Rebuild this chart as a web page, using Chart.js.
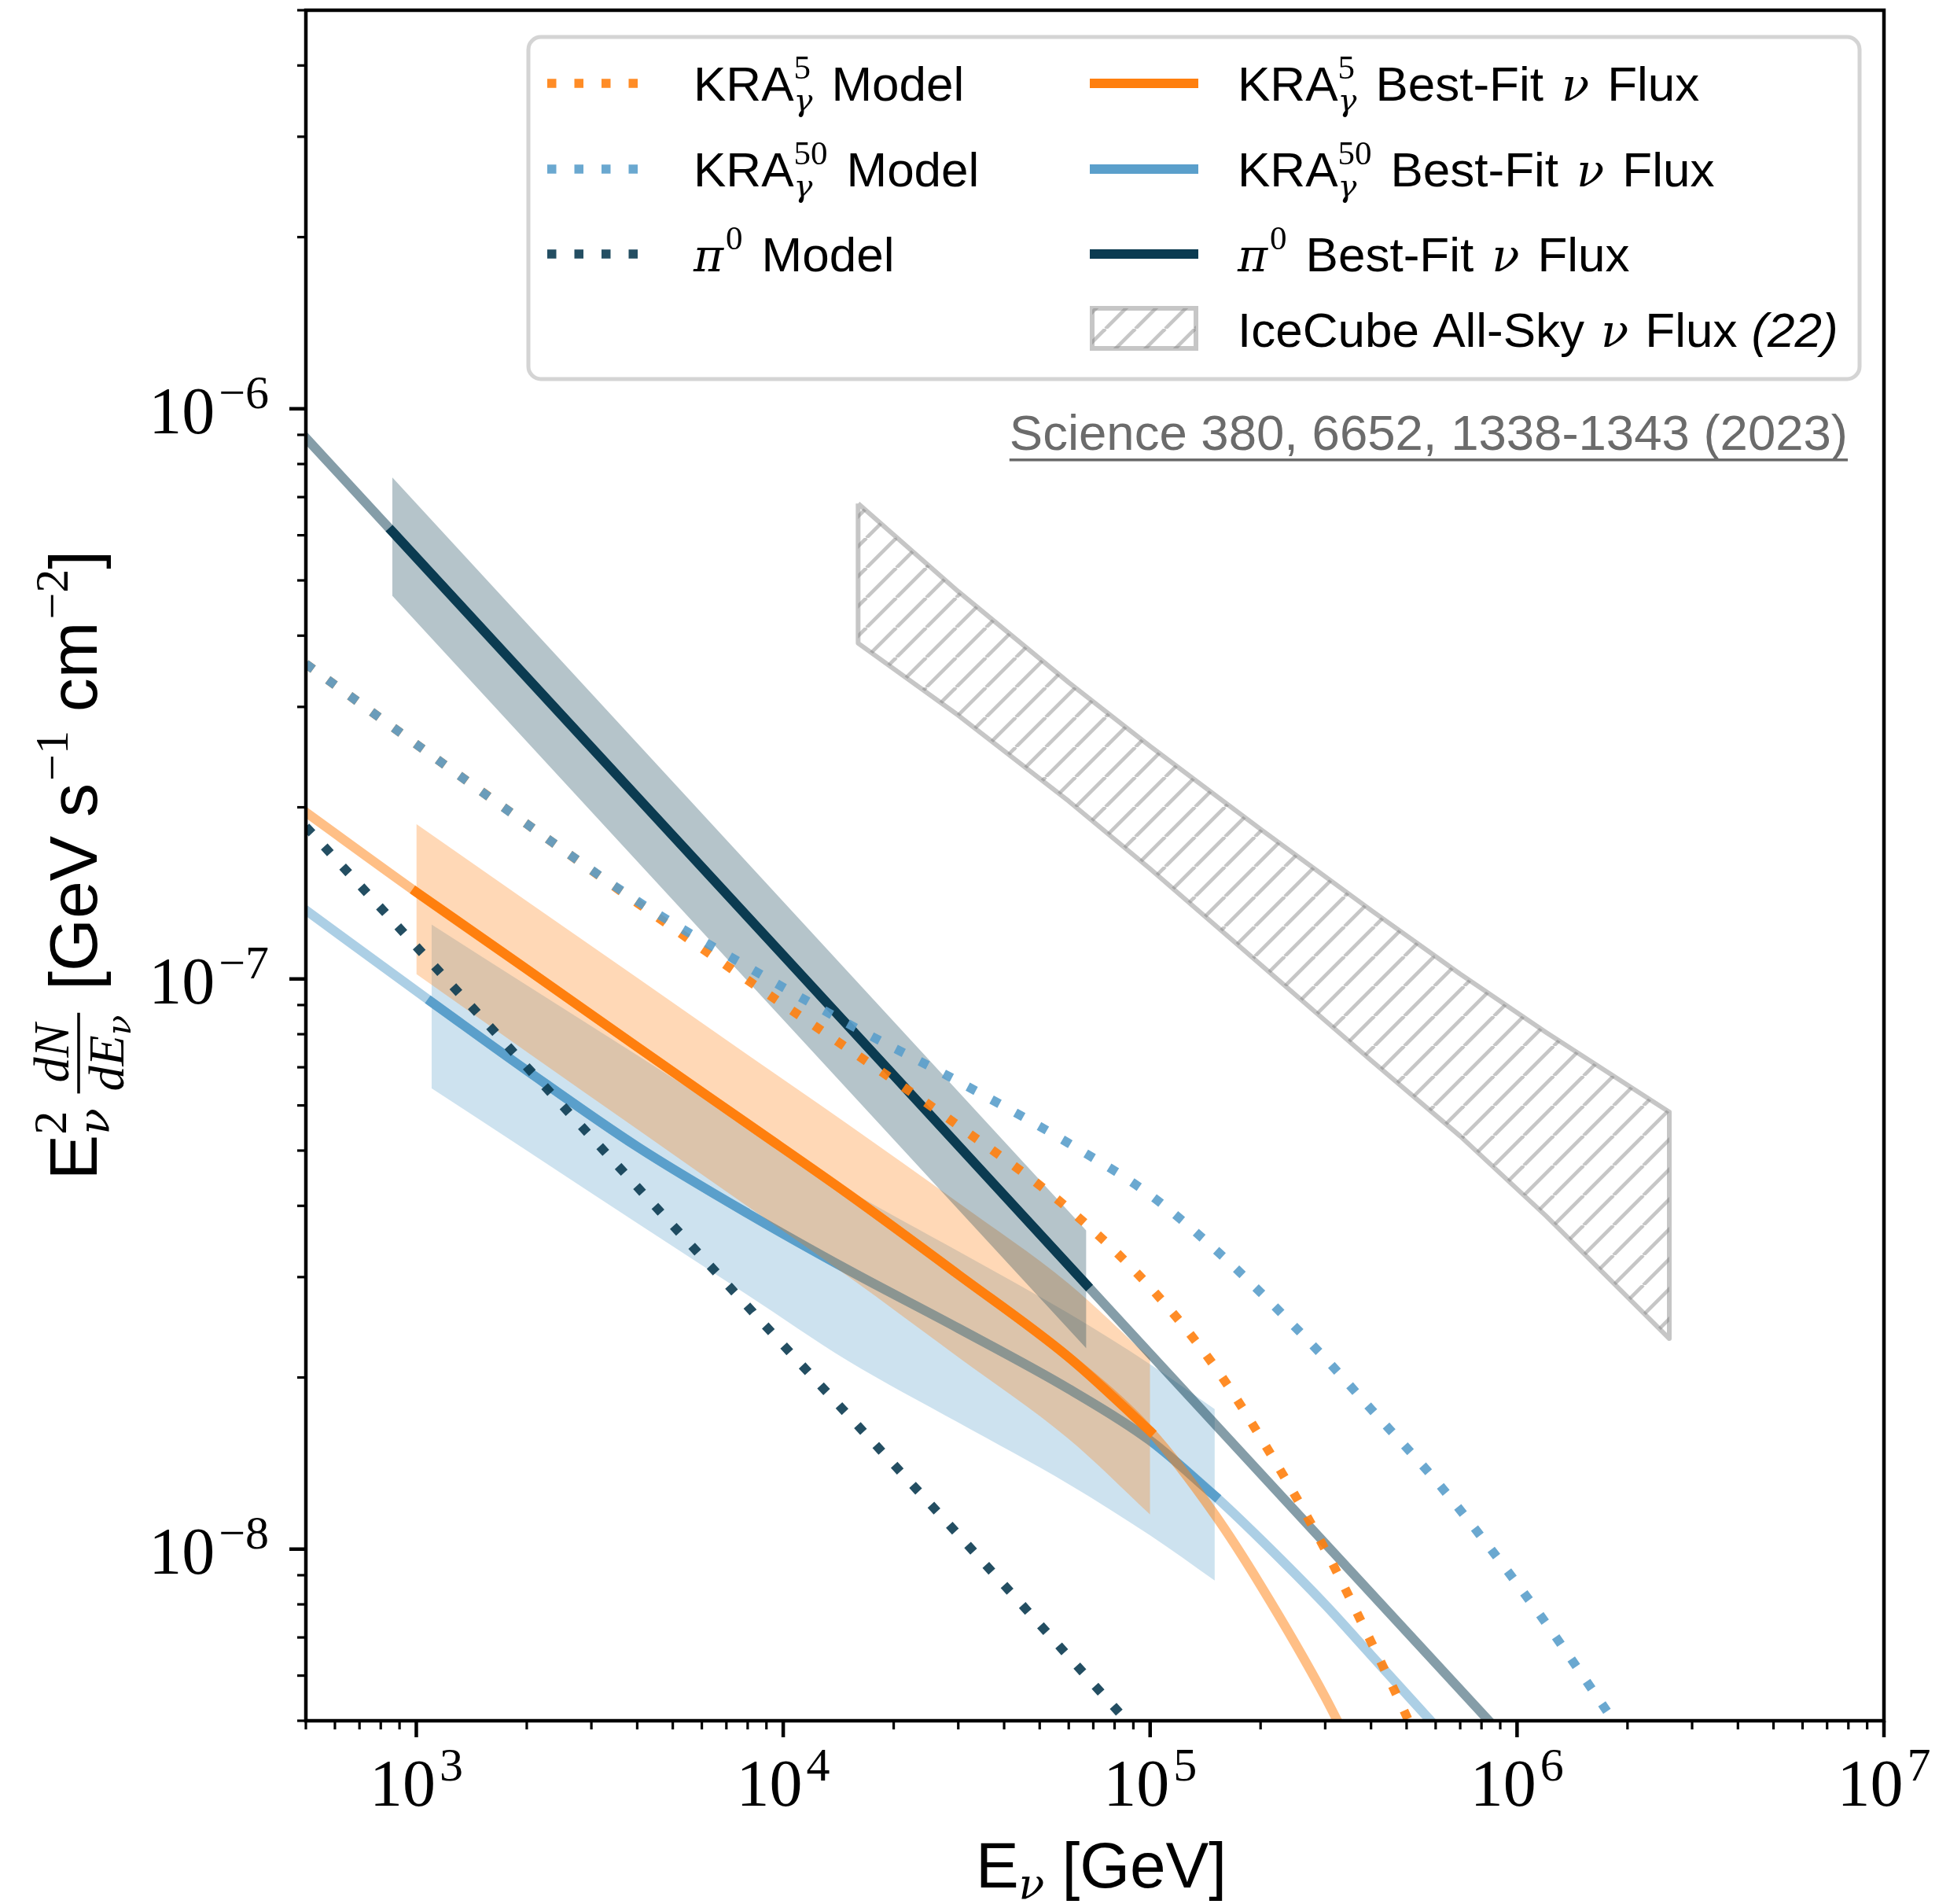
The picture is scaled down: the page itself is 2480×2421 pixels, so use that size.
<!DOCTYPE html>
<html>
<head>
<meta charset="utf-8">
<script src="https://cdn.jsdelivr.net/npm/chart.js@4.4.0/dist/chart.umd.min.js"></script>
<style>
  body { margin: 0; background: #fff; }
</style>
</head>
<body>
<canvas id="myChart" width="2480" height="2421"></canvas>
<script>
// energies in GeV, fluxes are E^2 dN/dE in GeV s^-1 cm^-2
const xMin = 500, xMax = 1e7;
const yMin = 5e-9, yMax = 5e-6;
const xTickExp = [3, 4, 5, 6, 7];
const yTickExp = [-8, -7, -6];

// models (dotted)
const kra50ModelE = [500, 1000, 2000, 4000, 8000, 15000, 30000, 60000, 100000, 150000, 200000, 300000, 400000, 600000, 800000, 1200000, 1800000, 2500000];
const kra50Model = [3.57e-7, 2.58e-7, 1.87e-7, 1.37e-7, 1.05e-7, 8.35e-8, 6.61e-8, 5.15e-8, 4.18e-8, 3.36e-8, 2.82e-8, 2.16e-8, 1.76e-8, 1.32e-8, 1.05e-8, 7.41e-9, 5.08e-9, 3.72e-9];
const kra5ModelE = [500, 1000, 2000, 4000, 8000, 15000, 30000, 60000, 100000, 150000, 200000, 300000, 400000, 500000, 600000];
const kra5Model = [3.57e-7, 2.58e-7, 1.87e-7, 1.36e-7, 9.95e-8, 7.55e-8, 5.53e-8, 3.95e-8, 2.88e-8, 2.09e-8, 1.57e-8, 9.98e-9, 6.88e-9, 5.09e-9, 3.91e-9];
const pionModelE = [500, 1000, 3000, 10000, 30000, 100000];
const pionModel = [1.85e-7, 1.14e-7, 5.28e-8, 2.28e-8, 1.06e-8, 4.5e-9];

// best fits (light = extrapolation, solid = sensitive range)
const kra5FitE = [500, 1000, 2000, 4000, 8000, 15000, 30000, 60000, 100000, 150000, 200000, 300000, 400000];
const kra5Fit = [1.96e-7, 1.42e-7, 1.04e-7, 7.60e-8, 5.57e-8, 4.20e-8, 3.03e-8, 2.17e-8, 1.61e-8, 1.15e-8, 8.64e-9, 5.50e-9, 3.79e-9];
const kra5Range = [1000, 100000];
const kra5BandE = [1000, 2000, 4000, 8000, 15000, 30000, 60000, 100000];
const kra5BandHi = [1.87e-7, 1.37e-7, 1.005e-7, 7.36e-8, 5.56e-8, 4.05e-8, 2.92e-8, 2.16e-8];
const kra5BandLo = [1.02e-7, 7.45e-8, 5.45e-8, 3.99e-8, 3.01e-8, 2.17e-8, 1.56e-8, 1.15e-8];

const kra50FitE = [500, 1100, 2000, 4000, 8000, 15000, 30000, 60000, 100000, 150000, 200000, 300000, 400000, 600000];
const kra50Fit = [1.32e-7, 9.11e-8, 6.91e-8, 5.08e-8, 3.88e-8, 3.09e-8, 2.44e-8, 1.91e-8, 1.55e-8, 1.24e-8, 1.04e-8, 7.99e-9, 6.52e-9, 4.89e-9];
const kra50Range = [1100, 150000];
const kra50BandE = [1100, 2000, 4000, 8000, 15000, 30000, 60000, 100000, 150000];
const kra50BandHi = [1.246e-7, 9.75e-8, 7.35e-8, 5.52e-8, 4.27e-8, 3.33e-8, 2.59e-8, 2.11e-8, 1.76e-8];
const kra50BandLo = [6.43e-8, 5.00e-8, 3.73e-8, 2.79e-8, 2.14e-8, 1.667e-8, 1.30e-8, 1.057e-8, 8.81e-9];

const pionFitE = [500, 1000, 10000, 100000, 1000000];
const pionFit = [8.89e-7, 5.48e-7, 1.10e-7, 2.20e-8, 4.42e-9];
const pionSolidE = [860, 10000, 67000];
const pionSolid = [6.09e-7, 1.10e-7, 2.91e-8];
const pionBandE = [860, 67000];
const pionBandHi = [7.58e-7, 3.62e-8];
const pionBandLo = [4.70e-7, 2.25e-8];

// IceCube all-sky flux butterfly
const iceE = [16000, 30000, 60000, 100000, 200000, 400000, 700000, 1200000, 2600000];
const iceHi = [6.82e-7, 4.78e-7, 3.31e-7, 2.56e-7, 1.83e-7, 1.32e-7, 1.02e-7, 8.06e-8, 5.84e-8];
const iceLo = [3.88e-7, 2.90e-7, 2.05e-7, 1.56e-7, 1.06e-7, 7.20e-8, 5.30e-8, 3.84e-8, 2.34e-8];

const ORANGE = [255, 127, 14], BLUE = [90, 159, 203], NAVY = [11, 59, 81];
const GREY = 'rgba(128,128,128,0.45)';
const rgba = (c, a) => `rgba(${c[0]},${c[1]},${c[2]},${a})`;

const SANS = '"Liberation Sans", Arial, sans-serif';
const SERIF = '"Liberation Serif", "Times New Roman", serif';
const GREEK = '"DejaVu Serif", serif';
const sans = s => `${s}px ${SANS}`;
const sansI = s => `italic ${s}px ${SANS}`;
const serif = s => `${s}px ${SERIF}`;
const serifI = s => `italic ${s}px ${SERIF}`;
const greek = s => `italic ${s}px ${GREEK}`;

const canvas = document.getElementById("myChart");
const context = canvas.getContext("2d");

/* hatch "//" like matplotlib */
function makeHatch() {
  const s = 38;
  const c = document.createElement("canvas");
  c.width = s;
  c.height = s;
  const g = c.getContext("2d");
  g.strokeStyle = GREY;
  g.lineWidth = 4.6;
  for (const k of [-1, 0, 1]) {
    g.beginPath();
    g.moveTo(k * s, s);
    g.lineTo(k * s + s, 0);
    g.stroke();
  }
  return context.createPattern(c, "repeat");
}
const hatch = makeHatch();

const xy = (xs, ys) => xs.map((x, i) => ({ x: x, y: ys[i] }));
const inRange = (xs, ys, r) => xy(xs, ys).filter(p => p.x >= r[0] && p.x <= r[1]);
const outline = (xs, hi, lo) => xy(xs, hi).concat(xy(xs, lo).reverse());

function curve(data, color, width, order, dotted) {
  return {
    data: data,
    order: order,
    borderColor: color,
    borderWidth: width,
    borderDash: dotted ? [width, width * 2] : [],
    borderCapStyle: dotted ? "butt" : "square",
    cubicInterpolationMode: "monotone",
    pointRadius: 0,
    fill: false,
    clip: 0,
  };
}
// a band = upper edge filled down to the lower edge (next dataset)
function band(xs, hi, lo, color, order) {
  const edge = (data, fill) => ({
    data: data,
    order: order,
    backgroundColor: color,
    borderColor: "transparent",
    borderWidth: 0,
    cubicInterpolationMode: "monotone",
    pointRadius: 0,
    fill: fill,
    clip: 0,
  });
  return [edge(xy(xs, hi), "+1"), edge(xy(xs, lo), false)];
}

const iceShape = outline(iceE, iceHi, iceLo);
iceShape.push({ x: iceE[0], y: iceHi[0] });

const datasets = [
  {
    data: iceShape,
    order: 20,
    backgroundColor: hatch,
    borderColor: GREY,
    borderWidth: 6,
    borderJoinStyle: "round",
    tension: 0,
    pointRadius: 0,
    fill: "shape",
    clip: 0,
  },
  ...band(kra50BandE, kra50BandHi, kra50BandLo, rgba(BLUE, 0.3), 19),
  curve(xy(kra50FitE, kra50Fit), rgba(BLUE, 0.5), 12, 18),
  curve(inRange(kra50FitE, kra50Fit, kra50Range), rgba(BLUE, 1), 12, 17),
  ...band(kra5BandE, kra5BandHi, kra5BandLo, rgba(ORANGE, 0.3), 16),
  curve(xy(kra5FitE, kra5Fit), rgba(ORANGE, 0.5), 12, 15),
  curve(inRange(kra5FitE, kra5Fit, kra5Range), rgba(ORANGE, 1), 12, 14),
  ...band(pionBandE, pionBandHi, pionBandLo, rgba(NAVY, 0.3), 13),
  curve(xy(pionFitE, pionFit), rgba(NAVY, 0.5), 12, 12),
  curve(xy(pionSolidE, pionSolid), rgba(NAVY, 1), 12, 11),
  curve(xy(kra5ModelE, kra5Model), rgba(ORANGE, 0.9), 11.5, 3, true),
  curve(xy(kra50ModelE, kra50Model), rgba(BLUE, 0.9), 11.5, 2, true),
  curve(xy(pionModelE, pionModel), rgba(NAVY, 0.9), 11.5, 1, true),
];

/* little rich-text helper: runs, stacked sup/sub, fractions */
function itemWidth(ctx, it) {
  if (it.gap) return it.gap;
  if (it.stack) return Math.max(...it.stack.map(s => itemWidth(ctx, s)));
  if (it.frac) return Math.max(rowWidth(ctx, it.frac[0]), rowWidth(ctx, it.frac[1])) + 8;
  ctx.font = it.f;
  return ctx.measureText(it.t).width;
}
function rowWidth(ctx, row) {
  return row.reduce((s, it) => s + itemWidth(ctx, it), 0);
}
function drawRow(ctx, row, x, y) {
  for (const it of row) {
    const w = itemWidth(ctx, it);
    if (it.stack) {
      it.stack.forEach(s => drawRow(ctx, [s], x, y));
    } else if (it.frac) {
      drawRow(ctx, it.frac[0], x + (w - rowWidth(ctx, it.frac[0])) / 2, y);
      drawRow(ctx, it.frac[1], x + (w - rowWidth(ctx, it.frac[1])) / 2, y);
      ctx.fillRect(x + 1, y + it.bar - it.lw / 2, w - 2, it.lw);
    } else if (it.t) {
      ctx.font = it.f;
      ctx.fillText(it.t, x, y + (it.dy || 0));
    }
    x += w;
  }
}

function pow10Label(ctx, exp, x, baseline, align) {
  const row = [{ t: "10", f: serif(84) }, { gap: 5 }, { t: exp, f: serif(60), dy: -32 }];
  const w = rowWidth(ctx, row);
  const x0 = align === "right" ? x - w : x - w / 2;
  drawRow(ctx, row, x0, baseline);
}

function roundBox(ctx, x, y, w, h, r) {
  ctx.beginPath();
  ctx.moveTo(x + r, y);
  ctx.arcTo(x + w, y, x + w, y + h, r);
  ctx.arcTo(x + w, y + h, x, y + h, r);
  ctx.arcTo(x, y + h, x, y, r);
  ctx.arcTo(x, y, x + w, y, r);
  ctx.closePath();
}

// legend rows
const LF = 62, LS = 43;
const kra = sup => [{ t: "KRA", f: sans(LF) }, { stack: [{ t: sup, f: serif(LS), dy: -28 }, { t: "γ", f: greek(LS - 3), dy: 13 }] }];
const pion = [{ t: "π", f: greek(LF - 4) }, { gap: 3 }, { t: "0", f: serif(LS), dy: -28 }];
const model = [{ gap: 24 }, { t: "Model", f: sans(LF) }];
const bestFit = [{ gap: 24 }, { t: "Best-Fit", f: sans(LF) }, { gap: 23 }, { t: "ν", f: greek(LF - 4) }, { gap: 23 }, { t: "Flux", f: sans(LF) }];
const legendRows = [106, 215, 323, 419];
const legendModels = [
  { color: rgba(ORANGE, 0.9), text: kra("5").concat(model) },
  { color: rgba(BLUE, 0.9), text: kra("50").concat(model) },
  { color: rgba(NAVY, 0.9), text: pion.concat(model) },
];
const legendFits = [
  { color: rgba(ORANGE, 1), text: kra("5").concat(bestFit) },
  { color: rgba(BLUE, 1), text: kra("50").concat(bestFit) },
  { color: rgba(NAVY, 1), text: pion.concat(bestFit) },
];
const iceText = [{ t: "IceCube All-Sky", f: sans(LF) }, { gap: 21 }, { t: "ν", f: greek(LF - 4) }, { gap: 21 },
  { t: "Flux", f: sans(LF) }, { gap: 18 }, { t: "(22)", f: sansI(LF) }];

function drawLegend(ctx) {
  ctx.save();
  roundBox(ctx, 672, 47, 1693, 435, 16);
  ctx.fillStyle = "rgba(255,255,255,0.85)";
  ctx.fill();
  ctx.strokeStyle = "#d4d4d4";
  ctx.lineWidth = 5;
  ctx.stroke();
  ctx.fillStyle = "#000";
  ctx.textBaseline = "alphabetic";
  legendModels.forEach((m, i) => {
    const y = legendRows[i];
    ctx.strokeStyle = m.color;
    ctx.lineWidth = 11.5;
    ctx.lineCap = "butt";
    ctx.setLineDash([11.5, 23]);
    ctx.beginPath();
    ctx.moveTo(696, y);
    ctx.lineTo(820, y);
    ctx.stroke();
    ctx.setLineDash([]);
    drawRow(ctx, m.text, 882, y + 22);
  });
  legendFits.forEach((m, i) => {
    const y = legendRows[i];
    ctx.strokeStyle = m.color;
    ctx.lineWidth = 12;
    ctx.beginPath();
    ctx.moveTo(1386, y);
    ctx.lineTo(1524, y);
    ctx.stroke();
    drawRow(ctx, m.text, 1574, y + 22);
  });
  // hatched patch
  ctx.fillStyle = hatch;
  ctx.fillRect(1389, 392, 132, 51);
  ctx.strokeStyle = GREY;
  ctx.lineWidth = 6;
  ctx.strokeRect(1389, 392, 132, 51);
  ctx.fillStyle = "#000";
  drawRow(ctx, iceText, 1574, legendRows[3] + 22);
  ctx.restore();
}

const frame = {
  id: "frame",
  afterDraw(chart) {
    const ctx = chart.ctx;
    const a = chart.chartArea;
    const sx = chart.scales.x, sy = chart.scales.y;
    ctx.save();
    ctx.strokeStyle = "#000";
    ctx.fillStyle = "#000";
    ctx.textBaseline = "alphabetic";
    ctx.lineCap = "butt";
    // x ticks
    for (let d = 2; d <= 7; d++) {
      for (let m = 1; m <= 9; m++) {
        const v = m * Math.pow(10, d);
        if (v < xMin * 0.999 || v > xMax * 1.001) continue;
        const px = sx.getPixelForValue(v);
        const major = m === 1;
        ctx.lineWidth = major ? 4.5 : 3.2;
        ctx.beginPath();
        ctx.moveTo(px, a.bottom);
        ctx.lineTo(px, a.bottom + (major ? 21 : 11));
        ctx.stroke();
      }
    }
    xTickExp.forEach(e => pow10Label(ctx, String(e), sx.getPixelForValue(Math.pow(10, e)), a.bottom + 108, "center"));
    // y ticks
    for (let d = -9; d <= -6; d++) {
      for (let m = 1; m <= 9; m++) {
        const v = m * Math.pow(10, d);
        if (v < yMin * 0.999 || v > yMax * 1.001) continue;
        const py = sy.getPixelForValue(v);
        const major = m === 1;
        ctx.lineWidth = major ? 4.5 : 3.2;
        ctx.beginPath();
        ctx.moveTo(a.left, py);
        ctx.lineTo(a.left - (major ? 21 : 11), py);
        ctx.stroke();
      }
    }
    yTickExp.forEach(e => pow10Label(ctx, "−" + String(-e), a.left - 47, sy.getPixelForValue(Math.pow(10, e)) + 31, "right"));
    // frame
    ctx.lineWidth = 4.5;
    ctx.strokeRect(a.left, a.top, a.right - a.left, a.bottom - a.top);

    // axis titles
    const xTitle = [{ t: "E", f: sans(82) }, { t: "ν", f: greek(54), dy: 14 }, { gap: 22 }, { t: "[GeV]", f: sans(82) }];
    drawRow(ctx, xTitle, (a.left + a.right) / 2 + 8 - rowWidth(ctx, xTitle) / 2, 2400);

    const yTitle = [
      { t: "E", f: sans(86) },
      { stack: [{ t: "2", f: serif(60), dy: -39 }, { t: "ν", f: greek(55), dy: 15 }] },
      { gap: 18 },
      { frac: [[{ t: "dN", f: serifI(64), dy: -36 }], [{ t: "dE", f: serifI(64), dy: 34 }, { t: "ν", f: greek(42), dy: 43 }]], bar: -23, lw: 3.5 },
      { gap: 28 },
      { t: "[GeV s", f: sans(86) },
      { gap: 3 },
      { t: "−1", f: serif(60), dy: -37 },
      { t: " cm", f: sans(86) },
      { gap: 3 },
      { t: "−2", f: serif(60), dy: -37 },
      { t: "]", f: sans(86) },
    ];
    ctx.save();
    ctx.translate(123, 1100);
    ctx.rotate(-Math.PI / 2);
    drawRow(ctx, yTitle, -rowWidth(ctx, yTitle) / 2, 0);
    ctx.restore();

    drawLegend(ctx);

    // reference text
    const ref = "Science 380, 6652, 1338-1343 (2023)";
    ctx.font = sans(63.5);
    ctx.fillStyle = "#6b6b6b";
    const rw = ctx.measureText(ref).width;
    ctx.fillText(ref, 2350 - rw, 572);
    ctx.fillRect(2350 - rw, 583, rw, 3.5);
    ctx.restore();
  },
};

const config = {
  type: "line",
  data: { datasets: datasets },
  options: {
    responsive: false,
    animation: false,
    devicePixelRatio: 1,
    events: [],
    layout: { padding: { left: 389, right: 84, top: 13, bottom: 233 } },
    scales: {
      x: { type: "logarithmic", min: xMin, max: xMax, display: false },
      y: { type: "logarithmic", min: yMin, max: yMax, display: false },
    },
    plugins: {
      legend: { display: false },
      tooltip: { enabled: false },
    },
  },
  plugins: [frame],
};

const chart = new Chart(context, config);
</script>
</body>
</html>
